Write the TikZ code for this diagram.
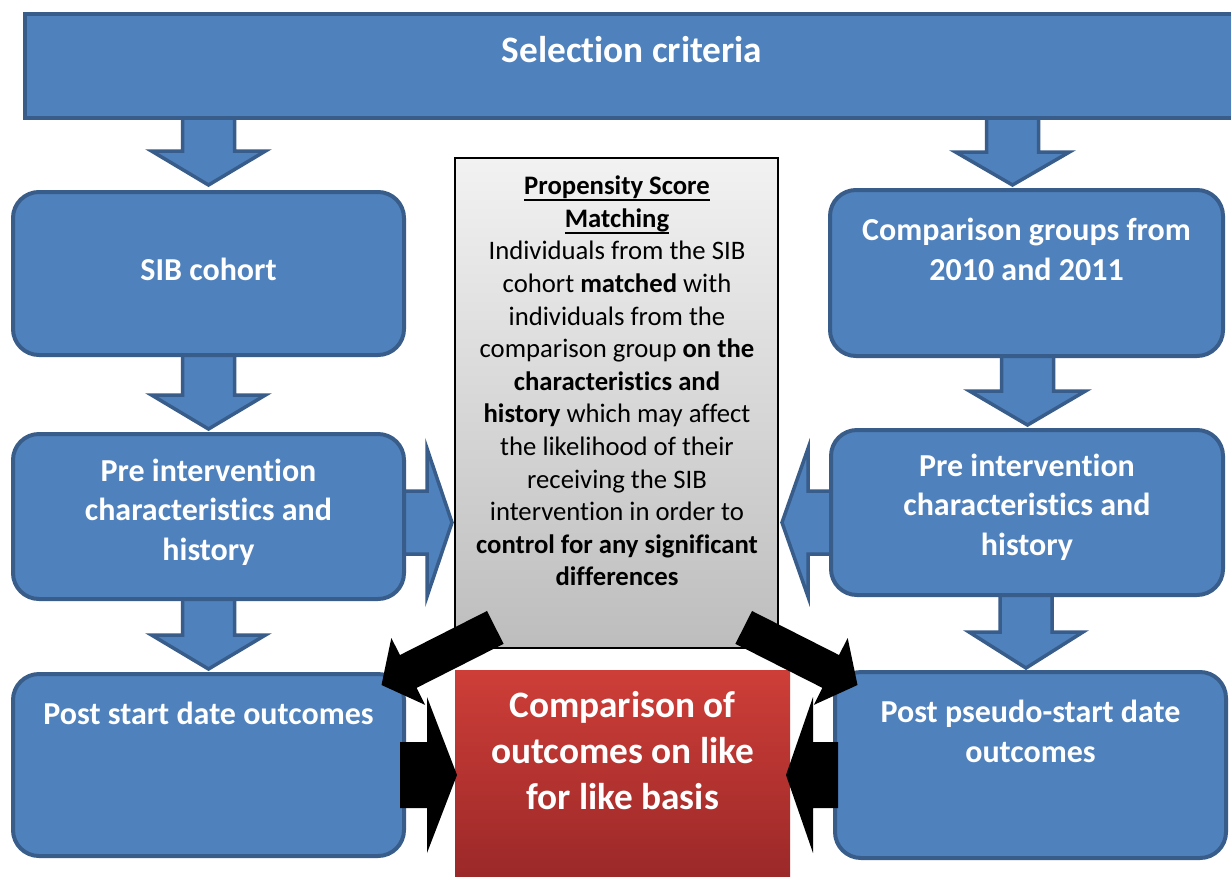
\documentclass[tikz,border=0pt]{standalone}
\usepackage{fontspec}
\setmainfont{Carlito}[Ligatures={NoCommon,NoContextual},Contextuals=NoAlternate]
\usetikzlibrary{calc}
\definecolor{bfill}{HTML}{4F81BD}
\definecolor{bline}{HTML}{385D8A}
\definecolor{gtop}{HTML}{F2F2F2}
\definecolor{gbot}{HTML}{BDBDBD}
\definecolor{rtop}{HTML}{CE3E38}
\definecolor{rbot}{HTML}{9A2828}
\newcommand{\myul}[1]{\setbox0\hbox{#1}\rlap{\rule[-6.5pt]{\wd0}{2pt}}\box0}
% block arrow: style, start, tip, shaft half width, head half width, head length
\newcommand{\blkarrow}[6]{%
  \coordinate (ba-h) at ($(#3)!#6!(#2)$);
  \path[#1] ($(#2)!#4!90:(#3)$) -- ($(ba-h)!#4!90:(#3)$) -- ($(ba-h)!#5!90:(#3)$)
    -- (#3) -- ($(ba-h)!#5!-90:(#3)$) -- ($(ba-h)!#4!-90:(#3)$)
    -- ($(#2)!#4!-90:(#3)$) -- cycle;}
\tikzset{
  bbox/.style={draw=bline, fill=bfill, line width=4pt, rounded corners=26pt, inner sep=0pt},
  btxt/.style={text=white, font=\fontsize{32}{39.5}\selectfont\bfseries, align=center, inner sep=0pt},
  barrow/.style={draw=bline, fill=bfill, line width=3.5pt, line join=miter},
  karrow/.style={fill=black},
  kharrow/.style={fill=black},
}
\begin{document}
\begin{tikzpicture}[x=1pt, y=-1pt]
\useasboundingbox (0,0) rectangle (1231,876);
\fill[white] (0,0) rectangle (1231,876);

% arrow end points
\coordinate (l1a) at (208.5,116); \coordinate (l1b) at (208.5,185);
\coordinate (l2a) at (208.5,350); \coordinate (l2b) at (208.5,429);
\coordinate (l3a) at (208.5,595); \coordinate (l3b) at (208.5,669);
\coordinate (r1a) at (1012.5,116); \coordinate (r1b) at (1012.5,185);
\coordinate (r2a) at (1027.5,350); \coordinate (r2b) at (1027.5,425);
\coordinate (r3a) at (1026,590); \coordinate (r3b) at (1026,668);
\coordinate (sla) at (395,522.5); \coordinate (slb) at (452,522.5);
\coordinate (sra) at (835,522.5); \coordinate (srb) at (782,522.5);

% blue block arrows
\blkarrow{barrow}{l1a}{l1b}{26pt}{57pt}{34pt}
\blkarrow{barrow}{l2a}{l2b}{26pt}{57pt}{34pt}
\blkarrow{barrow}{l3a}{l3b}{26pt}{57pt}{34pt}
\blkarrow{barrow}{r1a}{r1b}{26pt}{57pt}{33pt}
\blkarrow{barrow}{r2a}{r2b}{26pt}{58pt}{34pt}
\blkarrow{barrow}{r3a}{r3b}{26pt}{57pt}{36pt}
\blkarrow{barrow}{sla}{slb}{31.5pt}{74pt}{25pt}
\blkarrow{barrow}{sra}{srb}{31.5pt}{74pt}{26pt}

% boxes
\node[bbox, rounded corners=0pt, minimum width=1215pt, minimum height=104pt] (banner) at (632.5,66) {};
\node[bbox, minimum width=391pt, minimum height=163pt] (sib) at (208.5,273.5) {};
\node[bbox, minimum width=391pt, minimum height=165pt] (preL) at (208.5,516.5) {};
\node[bbox, minimum width=391pt, minimum height=182pt] (postL) at (208.5,765) {};
\node[bbox, minimum width=393pt, minimum height=166pt] (comp) at (1026.5,273) {};
\node[bbox, minimum width=392pt, minimum height=165pt] (preR) at (1027,512.5) {};
\node[bbox, minimum width=391pt, minimum height=186pt] (postR) at (1030.5,765) {};
\node[draw=black, line width=1.5pt, top color=gtop, bottom color=gbot, inner sep=0pt,
      minimum width=323pt, minimum height=490pt] (psm) at (616.5,403) {};
\node[top color=rtop, bottom color=rbot, inner sep=0pt,
      minimum width=335pt, minimum height=212pt] (res) at (622.5,776) {};

% texts
\node[btxt, font=\fontsize{37.3}{45}\selectfont\bfseries] (tsel) at (632,50) {Selection criteria};
\node[btxt] (tsib) at (208.5,269) {SIB cohort};
\node[btxt] (tpreL) at (208.5,512) {Pre intervention\\characteristics and\\history};
\node[btxt] (tpostL) at (208.5,713) {Post start date outcomes};
\node[btxt] (tcomp) at (1026.5,249.5) {Comparison groups from\\2010 and 2011};
\node[btxt] (tpreR) at (1027,507) {Pre intervention\\characteristics and\\history};
\node[btxt] (tpostR) at (1030.5,731.5) {Post pseudo-start date\\outcomes};
\node[btxt, font=\fontsize{37.3}{46}\selectfont\bfseries] (tres) at (622.5,751) {Comparison of\\outcomes on like\\for like basis};
\node[align=center, inner sep=0pt, font=\fontsize{26.7}{32.6}\selectfont] (tpsm) at (617,381) {%
\myul{\textbf{Propensity Score}}\\
\myul{\textbf{Matching}}\\
Individuals from the SIB\\
cohort \textbf{matched} with\\
individuals from the\\
comparison group \textbf{on the}\\
\textbf{characteristics and}\\
\textbf{history} which may affect\\
the likelihood of their\\
receiving the SIB\\
intervention in order to\\
\textbf{control for any significant}\\
\textbf{differences}};

% black arrows
\coordinate (dla) at (495.3,627.4); \coordinate (dlb) at (381.5,685);
\coordinate (dra) at (743.7,627.4); \coordinate (drb) at (857.5,685);
\coordinate (hla) at (400,775); \coordinate (hlb) at (457,775);
\coordinate (hra) at (838,775); \coordinate (hrb) at (786,775);
\blkarrow{karrow}{dla}{dlb}{18.4pt}{37.5pt}{30pt}
\blkarrow{karrow}{dra}{drb}{18.4pt}{37.5pt}{30pt}
\blkarrow{kharrow}{hla}{hlb}{33pt}{78pt}{30pt}
\blkarrow{kharrow}{hra}{hrb}{33pt}{78pt}{27pt}
\end{tikzpicture}
\end{document}
